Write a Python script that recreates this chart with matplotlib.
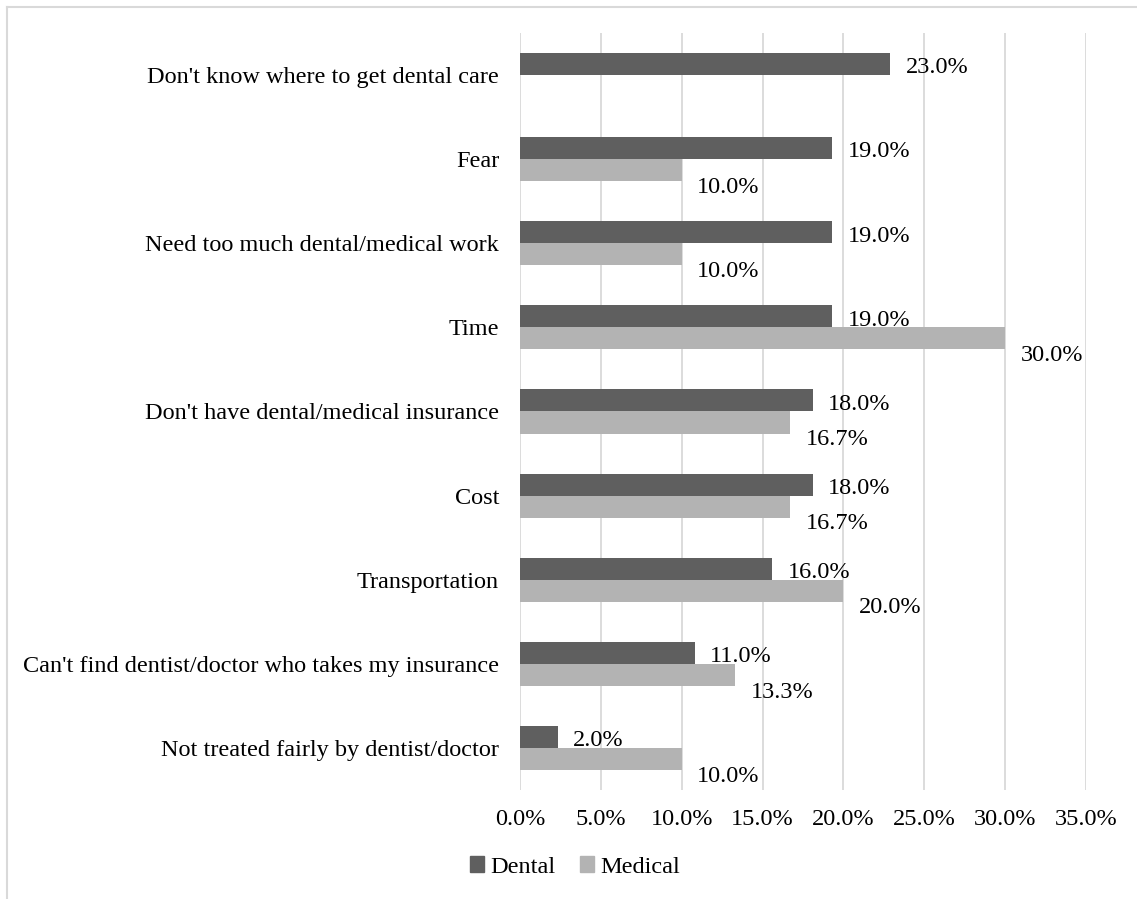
import matplotlib
matplotlib.use("Agg")
import matplotlib.pyplot as plt
from matplotlib.patches import Patch
import numpy as np

categories = [
    "Don't know where to get dental care",
    "Fear",
    "Need too much dental/medical work",
    "Time",
    "Don't have dental/medical insurance",
    "Cost",
    "Transportation",
    "Can't find dentist/doctor who takes my insurance",
    "Not treated fairly by dentist/doctor",
]
dental = [22.9, 19.3, 19.3, 19.3, 18.1, 18.1, 15.6, 10.8, 2.35]
medical = [None, 10.0, 10.0, 30.0, 16.7, 16.7, 20.0, 13.3, 10.0]
dental_labels = ["23.0%", "19.0%", "19.0%", "19.0%", "18.0%", "18.0%", "16.0%", "11.0%", "2.0%"]
medical_labels = [None, "10.0%", "10.0%", "30.0%", "16.7%", "16.7%", "20.0%", "13.3%", "10.0%"]
xticks = [0, 5, 10, 15, 20, 25, 30, 35]

plt.rcParams['font.family'] = ['Liberation Serif', 'DejaVu Serif']
FS = 17.5
dark = '#5f5f5f'
light = '#b3b3b3'

fig = plt.figure(figsize=(11.37, 8.99), dpi=100)
ax = fig.add_axes([520/1137, 1-790/899, (1086-520)/1137, (790-33)/899])

n = len(categories)
y = np.arange(n)
bh = 0.262
for i in range(n):
    ax.barh(y[i] - bh/2, dental[i], height=bh, color=dark, zorder=3)
    ax.text(dental[i] + 0.95, y[i] - bh/2 + 0.045, dental_labels[i], va='center', ha='left', fontsize=FS)
    if medical[i] is not None:
        ax.barh(y[i] + bh/2, medical[i], height=bh, color=light, zorder=3)
        ax.text(medical[i] + 0.95, y[i] + bh/2 + 0.205, medical_labels[i], va='center', ha='left', fontsize=FS)

ax.set_ylim(n - 0.5, -0.5)
ax.set_xlim(0, 35)
ax.set_xticks(xticks)
ax.set_xticklabels([f"{t:.1f}%" for t in xticks], fontsize=FS)
ax.set_yticks(y)
ax.set_yticklabels(categories, fontsize=FS)
ax.tick_params(axis='both', length=0)
ax.tick_params(axis='y', pad=15)
ax.tick_params(axis='x', pad=14)
ax.grid(axis='x', color='#d9d9d9', linewidth=1.3, zorder=0)
for s in ax.spines.values():
    s.set_visible(False)

handles = [Patch(color=dark, label='Dental'), Patch(color=light, label='Medical')]
fig.legend(handles=handles, loc='center', bbox_to_anchor=(575/1137, 1-867/899), ncol=2,
           frameon=False, fontsize=FS, handlelength=0.6, handleheight=0.6,
           handletextpad=0.25, columnspacing=1.0)

# chart border (top and left edges visible)
fig.add_artist(plt.Line2D([7/1137, 1], [1-7/899, 1-7/899], transform=fig.transFigure, color='#d9d9d9', lw=1.5))
fig.add_artist(plt.Line2D([7/1137, 7/1137], [0, 1-7/899], transform=fig.transFigure, color='#d9d9d9', lw=1.5))

fig.savefig('out.png', dpi=100, facecolor='white')
